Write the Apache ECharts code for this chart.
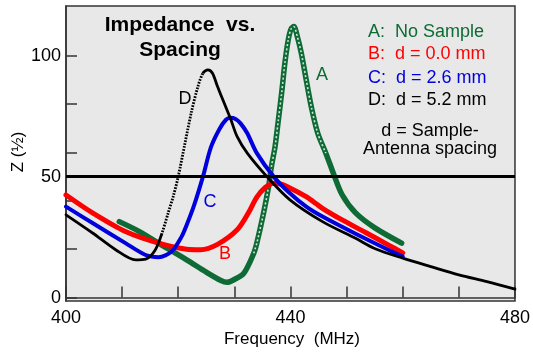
<!DOCTYPE html>
<html>
<head>
<meta charset="utf-8">
<script src="https://cdn.jsdelivr.net/npm/echarts@6/dist/echarts.min.js"></script>
<style>
html,body{margin:0;padding:0;background:#fff;}
#c{width:533px;height:355px;}
</style>
</head>
<body>
<div id="c"></div>
<script>
// ---- data (frequency MHz, impedance) ----
const curveA = [
  [409.5,31.4],[413,27.4],[416.5,22.5],[421.5,15.6],[425,10.5],[427.5,7.2],[428.7,6.3],
  [430,7.5],[431.7,10.1],[433.45,18.3],[434.0,22.5],[435.2,34.9],[436.1,45.9],[436.6,54.1],
  [437.25,62.4],[437.84,73.4],[438.42,84.5],[439.0,96.9],[439.6,106.5],[440.1,111],[440.6,112],
  [441.2,108],[441.93,101],[442.8,90],[443.7,78.9],[444.86,67.9],[446.3,59.7],[447.7,51],
  [449.2,42.5],[451.6,35],[455.1,28.7],[459.8,22.5]
];
const curveB = [
  [400,42.4],[404.8,34.9],[410.6,27.3],[416.5,22.5],[421.5,20],[424,19.8],[427,22],
  [430.5,28],[432.5,35],[434,41.5],[435.5,45.5],[437,47.3],[438.5,46.8],[440,45.2],
  [442.8,41.7],[445.7,36.9],[449.2,32.1],[453.3,27],[457.4,21.8],[460,18.5]
];
const curveC = [
  [400,37.6],[404.8,30.7],[410.6,22.5],[414.2,17.6],[416.5,16.7],[418.8,19],[420.6,25.2],
  [421.5,30],[422.8,38],[424.4,50],[425.8,62],[427.3,69.5],[428.5,73.5],[429.3,74.3],
  [430.2,73.8],[431.1,72],[432.3,67.9],[434,59.7],[437,50],[439.9,43.1],[442.8,37.6],
  [445.7,33.5],[451.6,26.4],[457.4,19.8],[460,17]
];
const curveD = [
  [400,34.2],[404.8,26.6],[408.9,19.7],[412.4,15.6],[414.2,15.9],[415.9,19.7],[417.1,26.6],
  [418.2,34.9],[419.1,41.7],[420,50],[421.2,63.8],[422.3,76.2],[423.5,87.2],[424.4,92.7],
  [425.3,94.1],[426.1,92.7],[427,87.2],[428.2,80.3],[429.4,73.4],[430.5,66.5],[432.3,59.7],
  [435.8,50],[439.9,40.4],[445.7,31.4],[451.6,24.5],[455.1,20.2],[460,16.3],[465,12.8],
  [470,9.4],[475,6.6],[480,3.5]
];
const refLevel = 50;
const xTickLabels = [400, 440, 480];
const yTickLabels = [0, 50, 100];
const yTicks = [0, 20, 40, 60, 80, 100];
const legendLines = ['A:  No Sample', 'B:  d = 0.0 mm', 'C:  d = 2.6 mm', 'D:  d = 5.2 mm'];
const noteLines = ['d = Sample-', 'Antenna spacing'];
const titleLines = ['Impedance  vs.', 'Spacing'];
// frequency ranges where the original plotted markers appear separated (dotted look)
const dottedRangeA = [433.4, 446.4];
const dottedRangeD = [416.0, 424.5];

const GREEN = '#0f6b35', RED = '#ff0000', BLUE = '#0000dd', BLACK = '#000000', BG = '#e8e8e8';
const FONT = '"Liberation Sans", Arial, sans-serif';

const chart = echarts.init(document.getElementById('c'), null, {renderer: 'canvas'});

function lineSeries(data, color, width, z, dash) {
  return {
    type: 'line', data: data, showSymbol: false, smooth: 0.3,
    lineStyle: {color: color, width: width, join: 'round', cap: dash ? 'butt' : 'round', type: dash || 'solid'},
    z: z || 2, silent: true, animation: false
  };
}
function subset(data, range) {
  return data.filter(p => p[0] >= range[0] && p[0] <= range[1]);
}

function txt(x, y, text, size, color, align, weight) {
  return {type: 'text', x: x, y: y,
    style: {text: text, font: (weight || '') + ' ' + size + 'px ' + FONT, fill: color,
            textAlign: align || 'left', textVerticalAlign: 'middle'}};
}

const option = {
  animation: false,
  grid: {left: 66, right: 11, top: 6, bottom: 54, show: true,
         backgroundColor: BG, borderColor: '#333', borderWidth: 1.5},
  xAxis: {
    type: 'value', min: 400, max: 480, interval: 10,
    axisLine: {show: true, lineStyle: {color: '#333', width: 1.5}},
    axisTick: {show: true, inside: true, length: 11, lineStyle: {color: '#333', width: 1.5}},
    splitLine: {show: false},
    axisLabel: {
      margin: 8, color: '#000', fontSize: 18, fontFamily: FONT,
      formatter: v => (xTickLabels.indexOf(v) >= 0 ? String(v) : '')
    }
  },
  yAxis: {
    type: 'value', min: -1.4, max: 120.5,
    axisLine: {show: true, lineStyle: {color: '#333', width: 1.5}},
    axisTick: {show: true, inside: true, length: 11, customValues: yTicks,
               lineStyle: {color: '#333', width: 1.5}},
    splitLine: {show: false},
    axisLabel: {customValues: yTickLabels, margin: 5, color: '#000', fontSize: 18, fontFamily: FONT}
  },
  series: [
    lineSeries(curveA, GREEN, 5.5, 2),
    lineSeries(subset(curveA, dottedRangeA), '#d2e2d6', 1.6, 3, [2, 2.2]),
    lineSeries(curveB, RED, 5, 4),
    lineSeries(curveC, BLUE, 4, 5),
    lineSeries(curveD, BLACK, 2.8, 6),
    lineSeries(subset(curveD, dottedRangeD), BG, 4, 7, [1.3, 1.7]),
    {type: 'line', data: [[400, refLevel], [480, refLevel]], showSymbol: false,
     lineStyle: {color: '#000', width: 3}, z: 9, silent: true}
  ],
  graphic: [
    {type: 'text', x: 18, y: 152, rotation: Math.PI / 2,
     style: {text: 'Z (½)', font: '17px ' + FONT, fill: '#000', textAlign: 'center', textVerticalAlign: 'middle'}},
    txt(292, 339, 'Frequency  (MHz)', 17, '#000', 'center'),
    txt(180, 25, titleLines[0], 21, '#000', 'center', 'bold'),
    txt(180, 50, titleLines[1], 21, '#000', 'center', 'bold'),
    txt(368, 32, legendLines[0], 18, GREEN),
    txt(368, 54, legendLines[1], 18, RED),
    txt(368, 78, legendLines[2], 18, BLUE),
    txt(368, 100, legendLines[3], 18, BLACK),
    txt(430, 131, noteLines[0], 18, '#000', 'center'),
    txt(430, 149, noteLines[1], 18, '#000', 'center'),
    txt(322, 75, 'A', 18, GREEN, 'center'),
    txt(225, 254, 'B', 18, RED, 'center'),
    txt(210, 202, 'C', 18, BLUE, 'center'),
    txt(185, 99, 'D', 18, BLACK, 'center')
  ]
};
chart.setOption(option);
</script>
</body>
</html>
